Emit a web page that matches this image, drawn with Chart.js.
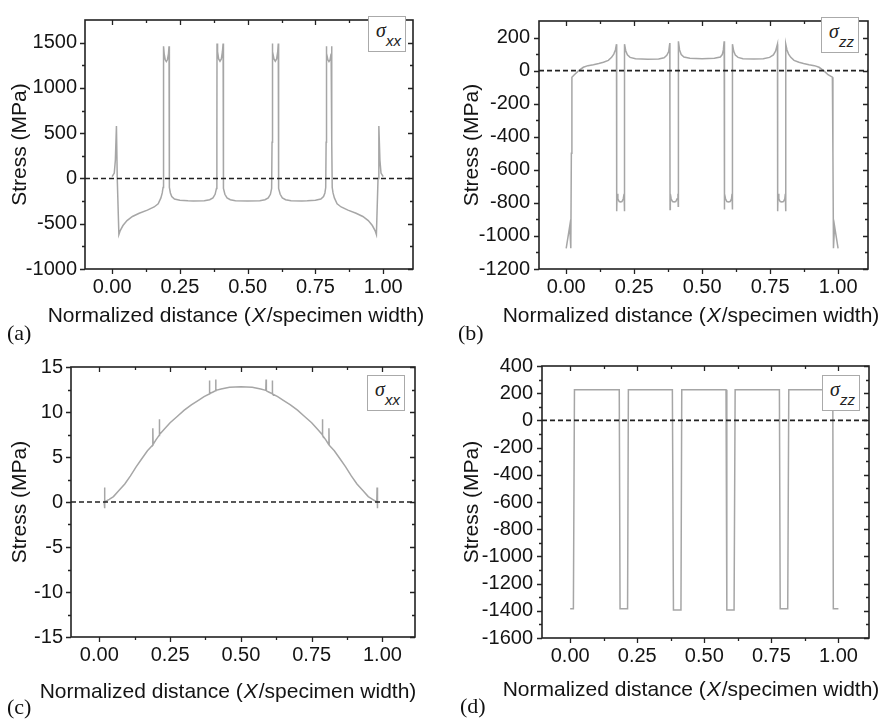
<!DOCTYPE html>
<html><head><meta charset="utf-8">
<script src="https://cdn.jsdelivr.net/npm/chart.js@4.4.0/dist/chart.umd.min.js"></script>
<style>
html,body{margin:0;padding:0;background:#fff;}
body{width:879px;height:727px;position:relative;overflow:hidden;}
canvas{position:absolute;}
.lbl{position:absolute;font:22px "Liberation Serif","Times New Roman",serif;line-height:22px;color:#111;}
.leg{position:absolute;width:38px;height:36px;border:1px solid #aaa;background:#fff;box-sizing:border-box;}
.leg .s{position:absolute;left:7px;top:3px;font:italic 20px "Liberation Serif","Times New Roman",serif;line-height:20px;color:#222;}
.leg .b{position:absolute;left:17px;top:16px;font:italic 15px "Liberation Sans",Arial,sans-serif;line-height:15px;color:#222;}
</style></head><body>
<canvas id="ca" width="440" height="360" style="left:0;top:0"></canvas>
<canvas id="cb" width="439" height="360" style="left:440px;top:0"></canvas>
<canvas id="cc" width="440" height="387" style="left:0;top:340px"></canvas>
<canvas id="cd" width="439" height="387" style="left:440px;top:340px"></canvas>
<div class="lbl" style="left:7px;top:322px">(a)</div>
<div class="lbl" style="left:458px;top:322px">(b)</div>
<div class="lbl" style="left:7px;top:696px">(c)</div>
<div class="lbl" style="left:460px;top:695px">(d)</div>
<div class="leg" style="left:368px;top:16px"><span class="s">σ</span><span class="b">xx</span></div>
<div class="leg" style="left:821px;top:17px"><span class="s">σ</span><span class="b">zz</span></div>
<div class="leg" style="left:367px;top:375px"><span class="s">σ</span><span class="b">xx</span></div>
<div class="leg" style="left:822px;top:375px"><span class="s">σ</span><span class="b">zz</span></div>
<script>
// ---------- data ----------
const xTicks = [0, 0.25, 0.5, 0.75, 1.0];
const xMinorTicks = [0.125, 0.375, 0.625, 0.875];
const yLabel = 'Stress (MPa)';
const xTitlePre = 'Normalized distance (';
const xTitleVar = 'X';
const xTitlePost = '/specimen width)';

// (a) sigma_xx
const aX = [0.000,0.008,0.012,0.016,0.019,0.025,0.030,0.040,0.055,0.075,0.100,0.130,0.155,0.170,0.180,0.185,0.188,0.1895,0.190,0.192,0.196,0.200,0.204,0.208,0.210,0.2105,0.212,0.215,0.220,0.230,0.250,0.280,0.300,
 0.340,0.360,0.372,0.380,0.385,0.3865,0.387,0.389,0.393,0.398,0.403,0.407,0.4095,0.410,0.4115,0.416,0.424,0.436,0.455,0.500,
 0.545,0.564,0.576,0.584,0.5885,0.590,0.5905,0.593,0.597,0.602,0.607,0.611,0.613,0.6135,0.615,0.620,0.628,0.640,0.660,
 0.700,0.720,0.750,0.770,0.780,0.785,0.788,0.7895,0.790,0.792,0.796,0.800,0.804,0.808,0.810,0.8105,0.812,0.815,0.820,0.830,0.845,0.870,0.900,0.925,0.945,0.960,0.970,0.975,0.981,0.984,0.988,0.992,1.000];
const aY = [20,60,200,580,0,-620,-575,-520,-465,-420,-385,-350,-315,-280,-215,-160,-100,400,1460,1380,1310,1290,1310,1380,1460,400,-100,-160,-200,-228,-240,-247,-250,
 -247,-235,-215,-175,-110,400,1490,1400,1320,1295,1320,1400,1490,400,-110,-175,-215,-235,-245,-250,
 -245,-235,-215,-175,-110,400,1490,1400,1320,1295,1320,1400,1490,400,-110,-175,-215,-235,-247,
 -250,-247,-240,-228,-200,-160,-100,400,1460,1380,1310,1290,1310,1380,1460,400,-100,-160,-215,-280,-315,-350,-385,-420,-465,-520,-575,-620,0,580,200,60,20];
const aYTicks = [-1000,-500,0,500,1000,1500];
const aYMinor = [-750,-250,250,750,1250];

// (b) sigma_zz
const bX = [0.000,0.013,0.017,0.019,0.021,0.030,0.045,0.063,0.080,0.100,0.120,0.137,0.155,0.167,0.175,0.181,0.185,
 0.1855,0.186,0.187,0.190,0.195,0.200,0.205,0.210,0.213,0.214,0.2145,0.215,0.219,0.225,0.235,0.255,0.300,0.340,0.360,0.370,0.377,0.381,
 0.3815,0.382,0.383,0.386,0.391,0.397,0.403,0.408,0.411,0.412,0.4125,0.413,0.417,0.423,0.433,0.455,0.500,0.545,0.567,0.574,0.578,0.581,
 0.5815,0.582,0.583,0.586,0.591,0.597,0.603,0.608,0.610,0.611,0.6115,0.612,0.616,0.622,0.632,0.650,0.690,0.725,0.748,0.762,0.770,0.777,
 0.7775,0.778,0.779,0.782,0.787,0.793,0.799,0.804,0.806,0.807,0.8075,0.808,0.812,0.818,0.826,0.838,0.856,0.873,0.893,0.913,0.930,0.948,0.963,0.979,0.981,0.983,0.987,1.000];
const bY = [-1075,-940,-1075,-500,-40,-25,-2,20,30,36,43,51,62,80,100,125,160,
 -300,-850,-745,-775,-792,-795,-792,-775,-745,-850,-300,160,120,95,80,72,68,70,78,92,115,167,
 -300,-840,-745,-775,-792,-795,-792,-775,-745,-820,-300,177,125,97,82,75,72,75,82,97,125,177,
 -300,-840,-745,-775,-792,-795,-792,-775,-745,-840,-300,160,118,94,80,72,70,72,80,95,118,160,
 -300,-850,-745,-775,-792,-795,-792,-775,-745,-850,-300,160,125,100,80,62,51,43,36,30,20,-2,-25,-40,-500,-1075,-940,-1075];
const bYTicks = [-1200,-1000,-800,-600,-400,-200,0,200];
const bYMinor = [-1100,-900,-700,-500,-300,-100,100];

// (c) sigma_xx
const cX = [0.017,0.018,0.019,0.020,0.035,0.050,0.070,0.090,0.110,0.130,0.150,0.170,0.188,0.189,0.190,0.200,0.211,0.212,0.213,0.230,0.250,0.275,0.300,0.325,0.350,0.370,0.388,0.389,0.390,0.400,0.410,0.411,0.412,0.430,0.460,0.500,
 0.540,0.570,0.588,0.589,0.590,0.600,0.610,0.611,0.612,0.630,0.650,0.675,0.700,0.725,0.750,0.770,0.787,0.788,0.789,0.800,0.810,0.811,0.812,0.830,0.850,0.870,0.890,0.910,0.930,0.950,0.965,0.980,0.981,0.982,0.983];
const cY = [0,1.6,-0.7,0,0.3,0.6,1.3,2.0,2.9,3.9,4.8,5.7,6.3,8.2,6.4,6.9,7.4,9.2,7.5,8.1,8.8,9.5,10.2,10.8,11.3,11.7,12.0,13.5,12.05,12.2,12.35,13.6,12.4,12.55,12.75,12.8,
 12.75,12.55,12.4,13.6,12.35,12.2,12.05,13.5,12.0,11.7,11.3,10.8,10.2,9.5,8.8,8.1,7.5,9.2,7.4,6.9,6.4,8.2,6.3,5.7,4.8,3.9,2.9,2.0,1.3,0.6,0.3,0,1.6,-0.7,0];
const cYTicks = [-15,-10,-5,0,5,10,15];
const cYMinor = [-12.5,-7.5,-2.5,2.5,7.5,12.5];

// (d) sigma_zz
const dX = [0.000,0.012,0.016,0.183,0.186,0.214,0.217,0.381,0.385,0.413,0.416,0.581,0.584,0.611,0.615,0.780,0.783,0.811,0.815,0.979,0.981,1.000];
const dY = [-1385,-1385,225,225,-1385,-1385,225,225,-1395,-1395,225,225,-1395,-1395,225,225,-1385,-1385,225,225,-1385,-1385];
const dYTicks = [-1600,-1400,-1200,-1000,-800,-600,-400,-200,0,200,400];
const dYMinor = [-1500,-1300,-1100,-900,-700,-500,-300,-100,100,300];

// ---------- drawing ----------
const SANS = '"Liberation Sans", Arial, Helvetica, sans-serif';
const TXT = '#141414';

function pts(xs, ys){ return xs.map((x,i)=>({x:x, y:ys[i]})); }

function framePlugin(p){
  return {id:'frame', afterDraw(chart){
    const ctx = chart.ctx, a = chart.chartArea, sx = chart.scales.x, sy = chart.scales.y;
    ctx.save();
    ctx.strokeStyle = '#222'; ctx.lineWidth = 1.6;
    ctx.strokeRect(a.left, a.top, a.right - a.left, a.bottom - a.top);
    ctx.beginPath();
    const xt = (vals, len) => vals.forEach(v => {
      const px = Math.round(sx.getPixelForValue(v)) + 0.5;
      ctx.moveTo(px, a.bottom); ctx.lineTo(px, a.bottom + len);
      ctx.moveTo(px, a.top); ctx.lineTo(px, a.top + len);
    });
    const yt = (vals, len) => vals.forEach(v => {
      const py = Math.round(sy.getPixelForValue(v)) + 0.5;
      ctx.moveTo(a.left - len, py); ctx.lineTo(a.left, py);
      ctx.moveTo(a.right - len, py); ctx.lineTo(a.right, py);
    });
    xt(xTicks, 5); xt(xMinorTicks, 3);
    yt(p.yTicks, 5); yt(p.yMinor, 3);
    ctx.lineWidth = 1.3;
    ctx.stroke();
    // x-axis title with italic X
    const fN = '21px ' + SANS, fI = 'italic 21px ' + SANS;
    ctx.fillStyle = TXT; ctx.textBaseline = 'alphabetic'; ctx.textAlign = 'left';
    ctx.font = fN; const w1 = ctx.measureText(xTitlePre).width, w3 = ctx.measureText(xTitlePost).width;
    ctx.font = fI; const w2 = ctx.measureText(xTitleVar).width;
    let x0 = p.titleCx - (w1 + w2 + w3 + 2) / 2;
    ctx.font = fN; ctx.fillText(xTitlePre, x0, p.titleBase);
    ctx.font = fI; ctx.fillText(xTitleVar, x0 + w1 + 1, p.titleBase);
    ctx.font = fN; ctx.fillText(xTitlePost, x0 + w1 + w2 + 2, p.titleBase);
    ctx.restore();
  }};
}

function makePanel(id, p){
  new Chart(document.getElementById(id), {
    type: 'line',
    data: { datasets: [
      { data: [{x:p.xMin, y:0},{x:p.xMax, y:0}], borderColor:'#222', borderWidth:1.6, borderDash:[5,3], pointRadius:0, order:0 },
      { data: pts(p.xs, p.ys), borderColor:'#a6a6a6', borderWidth:1.5, pointRadius:0, tension:0, order:1 }
    ]},
    options: {
      responsive:false, animation:false, devicePixelRatio:1,
      layout: { padding: p.pad },
      plugins: { legend:{display:false}, tooltip:{enabled:false} },
      scales: {
        x: { type:'linear', min:p.xMin, max:p.xMax,
             grid:{display:false, drawTicks:false}, border:{display:false},
             afterBuildTicks: s => { s.ticks = xTicks.map(v => ({value:v})); },
             afterFit: s => { s.height = 60; },
             ticks:{ padding:6, color:TXT, font:{family:SANS, size:20}, callback: v => Number(v).toFixed(2), maxRotation:0, autoSkip:false } },
        y: { type:'linear', min:p.yMin, max:p.yMax,
             grid:{display:false, drawTicks:false}, border:{display:false},
             afterBuildTicks: s => { s.ticks = p.yTicks.map(v => ({value:v})); },
             afterFit: s => { s.width = p.yW; },
             ticks:{ padding:p.yPad, color:TXT, font:{family:SANS, size:20}, callback: v => String(v), autoSkip:false },
             title:{ display:true, text:yLabel, color:TXT, font:{family:SANS, size:21, lineHeight:1.2}, padding:{top:p.yTitlePad, bottom:0} } }
      }
    },
    plugins: [framePlugin(p)]
  });
}

makePanel('ca', { xs:aX, ys:aY, xMin:-0.1, xMax:1.11, yMin:-1000, yMax:1750, yTicks:aYTicks, yMinor:aYMinor,
  yW:85, yPad:8, yTitlePad:8, pad:{left:0, top:10, right:27, bottom:31}, titleCx:236, titleBase:322 });
makePanel('cb', { xs:bX, ys:bY, xMin:-0.1, xMax:1.11, yMin:-1200, yMax:300, yTicks:bYTicks, yMinor:bYMinor,
  yW:99, yPad:9, yTitlePad:20, pad:{left:0, top:10, right:11, bottom:31}, titleCx:251, titleBase:322 });
makePanel('cc', { xs:cX, ys:cY, xMin:-0.1, xMax:1.115, yMin:-15, yMax:15, yTicks:cYTicks, yMinor:cYMinor,
  yW:71, yPad:8, yTitlePad:8, pad:{left:0, top:27, right:25, bottom:30}, titleCx:228, titleBase:358 });
makePanel('cd', { xs:dX, ys:dY, xMin:-0.105, xMax:1.114, yMin:-1600, yMax:400, yTicks:dYTicks, yMinor:dYMinor,
  yW:102, yPad:9, yTitlePad:20, pad:{left:0, top:26, right:10, bottom:29}, titleCx:251, titleBase:356 });
</script>
</body></html>
